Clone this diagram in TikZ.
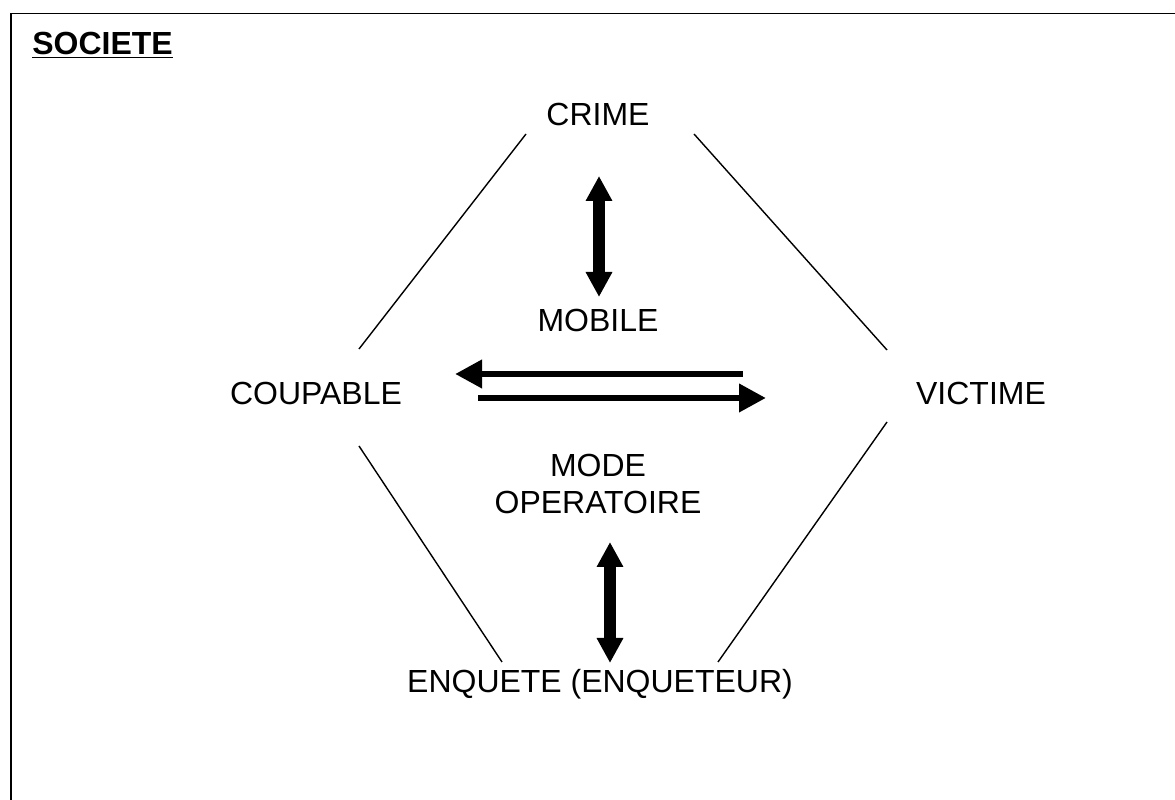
\documentclass[tikz,border=0pt]{standalone}
\usepackage{fontspec}
\setmainfont{Liberation Sans}
\usetikzlibrary{arrows.meta}
\tikzset{
  lab/.style={font=\fontsize{18.2}{20.5}\selectfont, inner sep=0pt, anchor=base},
  lato/.style={line width=0.8pt},
  doppia/.style={line width=0.23cm, {Triangle[length=0.5cm,width=0.5cm]}-{Triangle[length=0.5cm,width=0.5cm]}},
  singola/.style={line width=0.135cm, -{Triangle[length=0.54cm,width=0.54cm]}}
}
\begin{document}
\begin{tikzpicture}
  \useasboundingbox (0,0) rectangle (23.5,16);
  %cornice
  \draw[line width=0.9pt] (0.22,0) -- (0.22,15.73) -- (23.5,15.73);
  %nodi
  \node[lab, anchor=base west, font=\fontsize{18.2}{20.5}\selectfont\bfseries] (societe) at (0.64,14.9) {\underline{SOCIETE}};
  \node[lab] (crime) at (11.96,13.48) {CRIME};
  \node[lab] (mobile) at (11.96,9.36) {MOBILE};
  \node[lab] (coupable) at (6.32,7.9) {COUPABLE};
  \node[lab] (victime) at (19.62,7.9) {VICTIME};
  \node[lab, anchor=center, align=center] (mode) at (11.96,6.32) {MODE\\OPERATOIRE};
  \node[lab] (enquete) at (12,2.14) {ENQUETE (ENQUETEUR)};
  %estremi
  \coordinate (cr1) at (10.52,13.32);
  \coordinate (co1) at (7.18,9.02);
  \coordinate (cr2) at (13.88,13.32);
  \coordinate (vi1) at (17.74,9);
  \coordinate (co2) at (7.18,7.08);
  \coordinate (en1) at (10.04,2.76);
  \coordinate (vi2) at (17.74,7.56);
  \coordinate (en2) at (14.36,2.76);
  \coordinate (m1) at (11.98,12.48);
  \coordinate (m2) at (11.98,10.06);
  \coordinate (o1) at (12.2,5.16);
  \coordinate (o2) at (12.2,2.74);
  \coordinate (s1) at (14.86,8.52);
  \coordinate (s2) at (9.1,8.52);
  \coordinate (d1) at (9.56,8.04);
  \coordinate (d2) at (15.32,8.04);
  %lati
  \draw[lato] (cr1) -- (co1);
  \draw[lato] (cr2) -- (vi1);
  \draw[lato] (co2) -- (en1);
  \draw[lato] (vi2) -- (en2);
  %frecce
  \draw[doppia] (m1) -- (m2);
  \draw[doppia] (o1) -- (o2);
  \draw[singola] (s1) -- (s2);
  \draw[singola] (d1) -- (d2);
\end{tikzpicture}
\end{document}
